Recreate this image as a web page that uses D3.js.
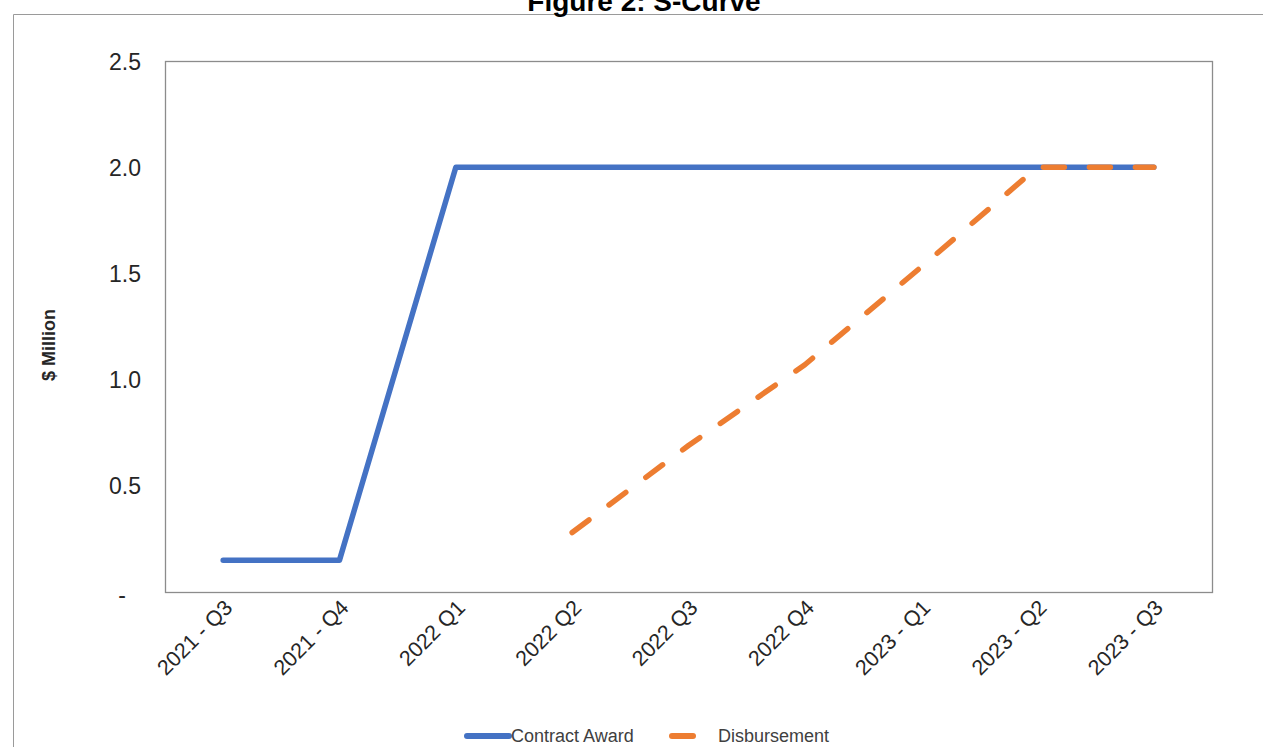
<!DOCTYPE html>
<html><head><meta charset="utf-8">
<script src="https://cdn.jsdelivr.net/npm/d3@7"></script>
<style>html,body{margin:0;padding:0;background:#fff;overflow:hidden}</style>
</head><body>
<svg id="chart" width="1263" height="747"></svg>
<script>
const categories = ["2021 - Q3","2021 - Q4","2022 Q1","2022 Q2","2022 Q3","2022 Q4","2023 - Q1","2023 - Q2","2023 - Q3"];
const contractAward = [0.15,0.15,2.0,2.0,2.0,2.0,2.0,2.0,2.0];
const disbursement = [null,null,null,0.28,0.69,1.07,1.53,2.0,2.0];
const yTicks = [0,0.5,1.0,1.5,2.0,2.5];
const seriesNames = ["Contract Award","Disbursement"];
const colors = ["#4472C4","#ED7D31"];

const svg = d3.select("#chart");
const W=1263,H=747;
const plot = {l:165,r:1212,t:61,b:592};

// outer chart border
svg.append("path").attr("d",`M13.5,${H+5}V14.5H${W+5}`).attr("fill","none").attr("stroke","#9a9a9a").attr("stroke-width",1);

// title
svg.append("text").attr("x",644).attr("y",11).attr("text-anchor","middle")
  .attr("font-family","Liberation Sans, Arial, sans-serif").attr("font-weight","bold").attr("font-size",28)
  .attr("fill","#000").text("Figure 2: S-Curve");

const x = d3.scalePoint().domain(categories).range([plot.l,plot.r]).padding(0.5);
const y = d3.scaleLinear().domain([0,2.5]).range([plot.b,plot.t]);

// plot area border
svg.append("rect").attr("x",plot.l+0.5).attr("y",plot.t+0.5).attr("width",plot.r-plot.l).attr("height",plot.b-plot.t)
  .attr("fill","none").attr("stroke","#8c8c8c").attr("stroke-width",1.3);

// y axis
const yAxis = d3.axisLeft(y).tickValues(yTicks).tickSize(0).tickPadding(0)
  .tickFormat(d=> d===0 ? "-" : d3.format(".1f")(d));
const gy = svg.append("g").attr("transform",`translate(141,0)`).call(yAxis);
gy.select(".domain").remove();
gy.selectAll("text").attr("font-family","Liberation Sans, Arial, sans-serif").attr("font-size",23).attr("fill","#262626")
  .attr("dy","0.35em");
gy.selectAll(".tick").filter(d=>d===0).select("text").attr("dx",-15).attr("dy","0.45em");

// y title
svg.append("text").attr("transform","translate(55,345) rotate(-90)").attr("text-anchor","middle")
  .attr("font-family","Liberation Sans, Arial, sans-serif").attr("font-weight","bold").attr("font-size",18)
  .attr("fill","#262626").text("$ Million");

// x axis
const xAxis = d3.axisBottom(x).tickSize(0).tickPadding(0);
const gx = svg.append("g").attr("transform",`translate(0,${plot.b})`).call(xAxis);
gx.select(".domain").remove();
gx.selectAll("text").attr("font-family","Liberation Sans, Arial, sans-serif").attr("font-size",21.5).attr("fill","#262626")
  .attr("text-anchor","end").attr("dy",0)
  .attr("transform","translate(10,17) rotate(-45)");

// lines
const line = d3.line().defined(d=>d!=null).x((d,i)=>x(categories[i])).y(d=>y(d));
svg.append("path").datum(contractAward).attr("d",line).attr("fill","none")
  .attr("stroke",colors[0]).attr("stroke-width",5.5).attr("stroke-linecap","round").attr("stroke-linejoin","round");
svg.append("path").datum(disbursement).attr("d",line).attr("fill","none")
  .attr("stroke",colors[1]).attr("stroke-width",5.5).attr("stroke-linecap","round").attr("stroke-linejoin","round")
  .attr("stroke-dasharray","21,25");

// legend
const ly = 736;
svg.append("line").attr("x1",467).attr("x2",509).attr("y1",ly).attr("y2",ly)
  .attr("stroke",colors[0]).attr("stroke-width",6).attr("stroke-linecap","round");
svg.append("text").attr("x",511).attr("y",ly+6).attr("font-family","Liberation Sans, Arial, sans-serif")
  .attr("font-size",18).attr("fill","#404040").text(seriesNames[0]);
svg.append("line").attr("x1",672).attr("x2",693).attr("y1",ly).attr("y2",ly)
  .attr("stroke",colors[1]).attr("stroke-width",6).attr("stroke-linecap","round");
svg.append("text").attr("x",718).attr("y",ly+6).attr("font-family","Liberation Sans, Arial, sans-serif")
  .attr("font-size",18).attr("fill","#404040").text(seriesNames[1]);
</script>
</body></html>
